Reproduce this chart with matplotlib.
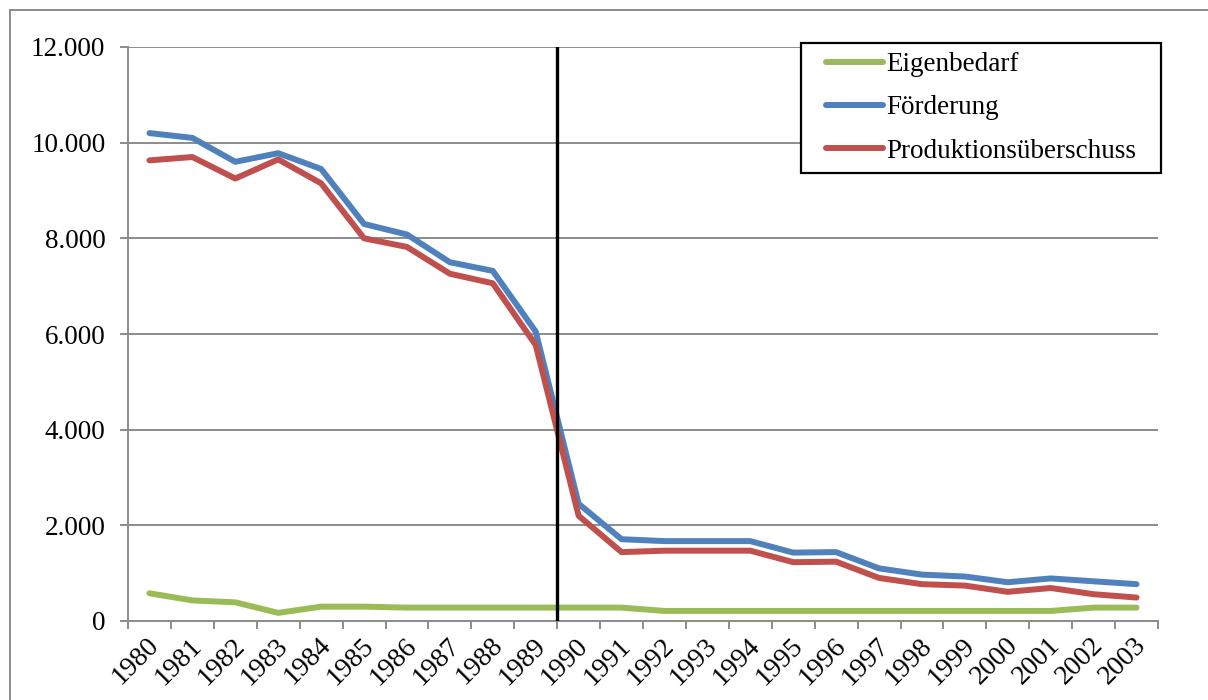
import matplotlib
matplotlib.use("Agg")
import matplotlib.pyplot as plt
import matplotlib.transforms as mtransforms
from matplotlib.lines import Line2D
from matplotlib.patches import Rectangle
from matplotlib.ticker import FuncFormatter

years = [str(y) for y in range(1980, 2004)]
eigenbedarf = [580, 430, 390, 170, 300, 300, 280, 280, 280, 280, 280, 280,
               210, 210, 210, 210, 210, 210, 210, 210, 210, 210, 280, 280]
foerderung = [10200, 10100, 9600, 9780, 9450, 8300, 8080, 7500, 7320, 6050,
              2450, 1710, 1670, 1670, 1670, 1430, 1440, 1100, 970, 930,
              810, 890, 830, 770]
ueberschuss = [9630, 9700, 9250, 9650, 9150, 8000, 7820, 7260, 7060, 5770,
               2200, 1440, 1470, 1470, 1470, 1230, 1240, 900, 770, 740,
               610, 690, 560, 490]
series_names = ["Eigenbedarf", "Förderung", "Produktionsüberschuss"]
series_colors = ["#9BBB59", "#4F81BD", "#C0504D"]
y_ticks = [0, 2000, 4000, 6000, 8000, 10000, 12000]
marker_boundary = 9.5  # between 1989 and 1990

plt.rcParams['font.family'] = ['Liberation Serif', 'DejaVu Serif']
FS = 19.5
W, H = 1208, 700
fig = plt.figure(figsize=(W / 100, H / 100), dpi=100)
ax = fig.add_axes([128 / W, 1 - 621 / H, (1158 - 128) / W, (621 - 47) / H])

x = list(range(len(years)))
for vals, name, col in zip([eigenbedarf, foerderung, ueberschuss], series_names, series_colors):
    ax.plot(x, vals, color=col, lw=4.3, solid_capstyle='round', solid_joinstyle='round',
            label=name, zorder=3)

ax.plot([marker_boundary, marker_boundary], [0, 12000], color='black', lw=2.4, zorder=4)

ax.set_xlim(-0.5, len(years) - 0.5)
ax.set_ylim(0, 12000)

grid_col = '#8C8C8C'
ax.set_yticks(y_ticks)
ax.yaxis.set_major_formatter(FuncFormatter(lambda v, p: f"{int(v):,}".replace(",", ".")))
ax.grid(axis='y', color=grid_col, lw=1.4, zorder=1)
ax.tick_params(axis='y', length=5.8, width=1.4, color=grid_col, labelsize=FS, pad=10.5)

ax.set_xticks([i - 0.5 for i in range(len(years) + 1)])
ax.set_xticklabels([])
ax.set_xticks(x, minor=True)
ax.set_xticklabels(years, minor=True, rotation=45, ha='right', va='center',
                   rotation_mode='anchor', fontsize=FS + 0.5)
ax.tick_params(axis='x', which='major', length=5.5, width=1.4, color=grid_col)
ax.tick_params(axis='x', which='minor', length=0, pad=15)
offset = mtransforms.ScaledTranslation(6 / 100, 0, fig.dpi_scale_trans)
for lab in ax.get_xticklabels(minor=True):
    lab.set_transform(lab.get_transform() + offset)

for s in ['top', 'right']:
    ax.spines[s].set_visible(False)
for s in ['left', 'bottom']:
    ax.spines[s].set_color(grid_col)
    ax.spines[s].set_linewidth(1.4)

# legend frame drawn separately (inside the axes so the legend sits on top)
frame = Rectangle((801 / W, 1 - 173 / H), (1161 - 801) / W, (173 - 43) / H,
                  transform=fig.transFigure, facecolor='white', edgecolor='black',
                  lw=1.6, zorder=5, clip_on=False)
ax.add_patch(frame)
leg = ax.legend(loc='upper left', bbox_to_anchor=(826 / W, 1 - 52 / H),
                bbox_transform=fig.transFigure, fontsize=FS, frameon=False,
                handlelength=2.1, handletextpad=0.12, labelspacing=0.68,
                borderpad=0, borderaxespad=0)
leg.set_zorder(6)

# outer chart border (left and top visible)
fig.add_artist(Line2D([9.5 / W, 9.5 / W], [0, 1 - 10 / H], transform=fig.transFigure,
                      color='#8C8C8C', lw=1.4))
fig.add_artist(Line2D([9.5 / W, 1], [1 - 10 / H, 1 - 10 / H], transform=fig.transFigure,
                      color='#8C8C8C', lw=1.4))

fig.savefig("out.png", dpi=100)
